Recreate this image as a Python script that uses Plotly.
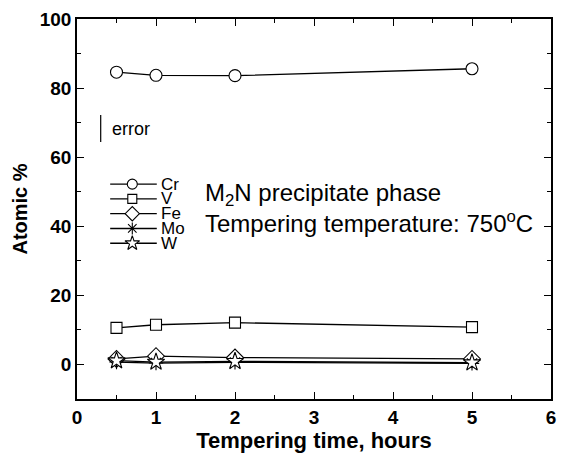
import plotly.graph_objects as go

# tempering time (hours) and atomic % of each element in the M2N phase
hours = [0.5, 1, 2, 5]
elements = ["Cr", "V", "Fe", "Mo", "W"]
cr = [84.6, 83.7, 83.6, 85.6]
v = [10.6, 11.5, 12.1, 10.8]
fe = [1.6, 2.4, 2.0, 1.6]
mo = [0.7, 0.4, 0.6, 0.3]
w = [1.1, 0.7, 0.9, 0.5]
error_bar = [64.4, 72.2]

series = [cr, v, fe, mo, w]
symbols = ["circle", "square", "diamond", "asterisk-open", "star"]
sizes = [12, 11, 13, 12, 13]

FONT = "Liberation Sans, Arial, sans-serif"


def marker_style(sym, sz):
    # open symbols (asterisk) take their stroke from marker.color
    fill = "black" if sym.endswith("-open") else "white"
    return dict(symbol=sym, size=sz, color=fill, line=dict(color="black", width=1.1))


fig = go.Figure()
for name, vals, sym, sz in zip(elements, series, symbols, sizes):
    fig.add_trace(go.Scatter(
        x=hours, y=vals, mode="lines+markers", name=name, showlegend=False,
        line=dict(color="black", width=1.3),
        marker=marker_style(sym, sz)
    ))

# hand-made legend inside the plot (rows packed tighter than plotly's legend)
leg_x = [0.42, 1.01]
leg_mark_x = 0.70
leg_text_x = 1.04
leg_y0 = 52.2
leg_dy = 4.28
for i, (name, sym, sz) in enumerate(zip(elements, symbols, sizes)):
    yy = leg_y0 - i * leg_dy
    fig.add_trace(go.Scatter(
        x=leg_x, y=[yy, yy], mode="lines", showlegend=False, hoverinfo="skip",
        line=dict(color="black", width=1.3)
    ))
    fig.add_trace(go.Scatter(
        x=[leg_mark_x], y=[yy], mode="markers", showlegend=False, hoverinfo="skip",
        marker=marker_style(sym, sz - 2)
    ))
    fig.add_annotation(x=leg_text_x, y=yy, text=name, showarrow=False, xanchor="left",
                       font=dict(family=FONT, size=17, color="black"))

# error indicator
fig.add_trace(go.Scatter(
    x=[0.30, 0.30], y=error_bar, mode="lines", showlegend=False,
    line=dict(color="black", width=1.2)
))
fig.add_annotation(x=0.42, y=sum(error_bar) / 2, text="error", showarrow=False,
                   xanchor="left", font=dict(family=FONT, size=18, color="black"))

fig.add_annotation(x=1.60, y=49.3, text="M<sub>2</sub>N precipitate phase", showarrow=False,
                   xanchor="left", font=dict(family=FONT, size=24, color="black"))
fig.add_annotation(x=1.60, y=41.2, text="Tempering temperature: 750<sup>o</sup>C", showarrow=False,
                   xanchor="left", font=dict(family=FONT, size=24, color="black"))

axis_common = dict(
    showgrid=False, zeroline=False, showline=True, linecolor="black", linewidth=1.5,
    mirror="ticks", ticks="inside", ticklen=7, tickwidth=1.3, tickcolor="black",
    automargin=False,
    tickfont=dict(family=FONT, size=19, color="black", weight="bold"),
)
fig.update_xaxes(range=[0, 6], dtick=1,
                 minor=dict(dtick=0.5, ticks="inside", ticklen=4, tickcolor="black", tickwidth=1.2),
                 title=dict(text="<b>Tempering time, hours</b>", standoff=4,
                            font=dict(family=FONT, size=22, color="black")),
                 **axis_common)
fig.update_yaxes(range=[-10, 100], tickvals=[0, 20, 40, 60, 80, 100],
                 minor=dict(tickvals=[10, 30, 50, 70, 90], ticks="inside", ticklen=4,
                            tickcolor="black", tickwidth=1.2),
                 title=dict(text="<b>Atomic %</b>", standoff=7,
                            font=dict(family=FONT, size=20, color="black")),
                 **axis_common)

# page body keeps an 8px margin, so the figure is drawn 8px smaller and offset
fig.update_layout(
    width=558, height=445,
    margin=dict(l=69, r=15, t=11, b=54),
    plot_bgcolor="white", paper_bgcolor="white",
    font=dict(family=FONT, color="black"),
)

fig.write_html("out.html")
